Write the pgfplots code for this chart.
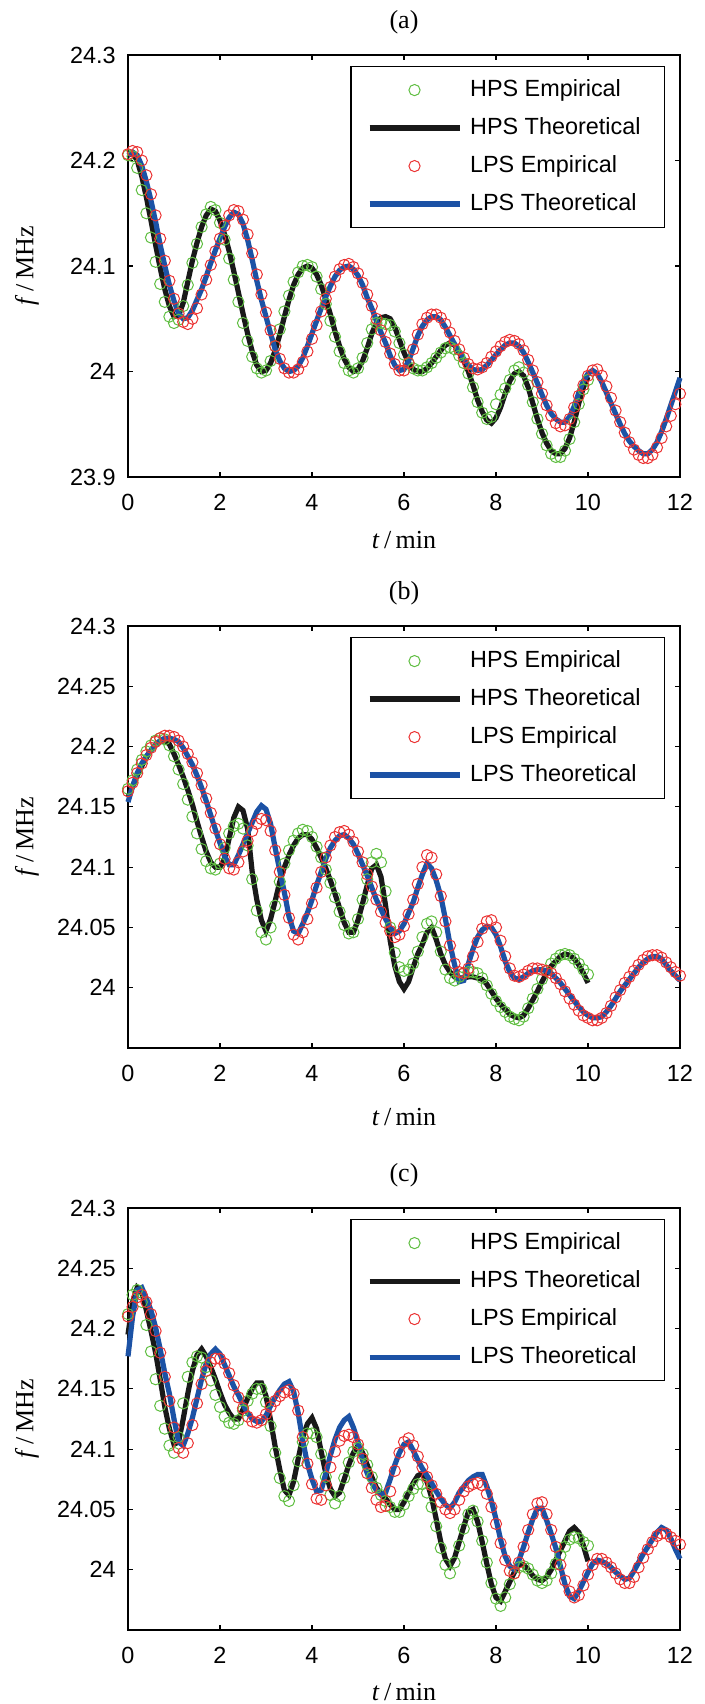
\documentclass[border=0pt]{standalone}
\usepackage{fontspec}
\setmainfont{Liberation Sans}
\newfontfamily\serif{Liberation Serif}
\usepackage{pgfplots}
\usepackage{pgfplotstable}
\pgfplotsset{compat=1.18}

\definecolor{hpsgreen}{RGB}{95,190,65}
\definecolor{lpsred}{RGB}{235,50,50}
\definecolor{lpsblue}{RGB}{28,82,165}
\definecolor{hpsblack}{RGB}{25,25,25}

% panel (a)
\pgfplotstableread{
t emp theo
0.0 24.205 24.205
0.1 24.204 24.207
0.2 24.193 24.200
0.3 24.172 24.185
0.4 24.150 24.165
0.5 24.127 24.143
0.6 24.104 24.120
0.7 24.083 24.098
0.8 24.066 24.078
0.9 24.052 24.062
1.0 24.046 24.052
1.1 24.049 24.053
1.2 24.062 24.065
1.3 24.082 24.085
1.4 24.103 24.105
1.5 24.121 24.122
1.6 24.137 24.137
1.7 24.149 24.148
1.8 24.156 24.154
1.9 24.153 24.152
2.0 24.141 24.143
2.1 24.125 24.130
2.2 24.107 24.114
2.3 24.087 24.095
2.4 24.066 24.075
2.5 24.046 24.055
2.6 24.029 24.036
2.7 24.014 24.019
2.8 24.003 24.006
2.9 23.999 24.000
3.0 24.001 24.001
3.1 24.010 24.008
3.2 24.024 24.020
3.3 24.040 24.035
3.4 24.057 24.052
3.5 24.072 24.068
3.6 24.085 24.082
3.7 24.094 24.092
3.8 24.100 24.098
3.9 24.101 24.100
4.0 24.099 24.098
4.1 24.090 24.092
4.2 24.078 24.082
4.3 24.064 24.069
4.4 24.048 24.054
4.5 24.033 24.038
4.6 24.019 24.024
4.7 24.008 24.012
4.8 24.001 24.004
4.9 23.999 24.000
5.0 24.003 24.002
5.1 24.013 24.010
5.2 24.027 24.022
5.3 24.040 24.036
5.4 24.046 24.046
5.5 24.046 24.051
5.6 24.045 24.052
5.7 24.044 24.050
5.8 24.038 24.042
5.9 24.027 24.030
6.0 24.016 24.018
6.1 24.008 24.008
6.2 24.003 24.002
6.3 24.001 24.000
6.4 24.001 24.000
6.5 24.004 24.003
6.6 24.008 24.008
6.7 24.013 24.014
6.8 24.018 24.020
6.9 24.022 24.025
7.0 24.023 24.027
7.1 24.021 24.025
7.2 24.015 24.018
7.3 24.008 24.010
7.4 23.998 24.000
7.5 23.985 23.987
7.6 23.971 23.973
7.7 23.961 23.962
7.8 23.955 23.954
7.9 23.957 23.951
8.0 23.969 23.956
8.1 23.978 23.966
8.2 23.984 23.979
8.3 23.992 23.991
8.4 24.001 23.998
8.5 24.004 24.000
8.6 23.999 23.996
8.7 23.987 23.985
8.8 23.971 23.970
8.9 23.955 23.955
9.0 23.941 23.942
9.1 23.930 23.932
9.2 23.922 23.925
9.3 23.919 23.922
9.4 23.919 23.922
9.5 23.925 23.927
9.6 23.936 23.937
9.7 23.952 23.952
9.8 23.969 23.970
9.9 23.983 23.985
10.0 23.992 23.995
}\hpsA

\pgfplotstableread{
t emp theo
0.0 24.206 24.205
0.1 24.209 24.208
0.2 24.208 24.205
0.3 24.200 24.195
0.4 24.186 24.180
0.5 24.168 24.162
0.6 24.148 24.142
0.7 24.126 24.120
0.8 24.105 24.100
0.9 24.086 24.082
1.0 24.069 24.067
1.1 24.055 24.055
1.2 24.047 24.050
1.3 24.045 24.051
1.4 24.050 24.058
1.5 24.060 24.068
1.6 24.073 24.078
1.7 24.087 24.090
1.8 24.101 24.103
1.9 24.114 24.115
2.0 24.126 24.126
2.1 24.138 24.137
2.2 24.148 24.146
2.3 24.153 24.151
2.4 24.152 24.149
2.5 24.144 24.140
2.6 24.130 24.125
2.7 24.112 24.106
2.8 24.092 24.086
2.9 24.073 24.068
3.0 24.056 24.052
3.1 24.039 24.036
3.2 24.024 24.021
3.3 24.012 24.010
3.4 24.003 24.003
3.5 23.999 24.000
3.6 23.999 24.001
3.7 24.002 24.005
3.8 24.009 24.013
3.9 24.019 24.024
4.0 24.031 24.036
4.1 24.044 24.048
4.2 24.057 24.060
4.3 24.069 24.071
4.4 24.080 24.081
4.5 24.090 24.090
4.6 24.097 24.096
4.7 24.101 24.099
4.8 24.102 24.100
4.9 24.099 24.097
5.0 24.093 24.091
5.1 24.084 24.082
5.2 24.073 24.070
5.3 24.062 24.060
5.4 24.050 24.048
5.5 24.039 24.037
5.6 24.028 24.027
5.7 24.017 24.015
5.8 24.007 24.006
5.9 24.001 24.001
6.0 24.001 24.002
6.1 24.008 24.010
6.2 24.021 24.022
6.3 24.035 24.034
6.4 24.045 24.043
6.5 24.051 24.049
6.6 24.054 24.052
6.7 24.054 24.052
6.8 24.051 24.049
6.9 24.045 24.042
7.0 24.037 24.034
7.1 24.029 24.026
7.2 24.021 24.019
7.3 24.013 24.012
7.4 24.007 24.006
7.5 24.003 24.002
7.6 24.002 24.001
7.7 24.004 24.002
7.8 24.008 24.006
7.9 24.014 24.011
8.0 24.019 24.016
8.1 24.024 24.021
8.2 24.028 24.025
8.3 24.030 24.027
8.4 24.029 24.027
8.5 24.026 24.024
8.6 24.020 24.018
8.7 24.011 24.009
8.8 24.001 23.999
8.9 23.990 23.989
9.0 23.979 23.978
9.1 23.968 23.968
9.2 23.958 23.960
9.3 23.951 23.955
9.4 23.948 23.952
9.5 23.949 23.952
9.6 23.955 23.957
9.7 23.966 23.967
9.8 23.977 23.980
9.9 23.987 23.991
10.0 23.996 23.998
10.1 24.001 24.001
10.2 24.002 23.998
10.3 23.996 23.990
10.4 23.986 23.980
10.5 23.975 23.970
10.6 23.963 23.960
10.7 23.952 23.950
10.8 23.942 23.941
10.9 23.933 23.934
11.0 23.926 23.929
11.1 23.921 23.925
11.2 23.918 23.922
11.3 23.918 23.922
11.4 23.921 23.926
11.5 23.928 23.933
11.6 23.937 23.943
11.7 23.948 23.955
11.8 23.958 23.968
11.9 23.969 23.981
12.0 23.979 23.994
}\lpsA

% panel (b)
\pgfplotstableread{
t emp theo
0.0 24.165 24.158
0.1 24.172 24.167
0.2 24.181 24.176
0.3 24.189 24.184
0.4 24.196 24.191
0.5 24.201 24.197
0.6 24.205 24.201
0.7 24.207 24.204
0.8 24.206 24.205
0.9 24.201 24.202
1.0 24.192 24.194
1.1 24.181 24.185
1.2 24.169 24.175
1.3 24.156 24.164
1.4 24.142 24.152
1.5 24.128 24.138
1.6 24.115 24.125
1.7 24.105 24.113
1.8 24.099 24.104
1.9 24.098 24.100
2.0 24.103 24.100
2.1 24.116 24.107
2.2 24.128 24.124
2.3 24.134 24.141
2.4 24.136 24.150
2.5 24.132 24.147
2.6 24.118 24.132
2.7 24.090 24.096
2.8 24.064 24.073
2.9 24.046 24.056
3.0 24.040 24.047
3.1 24.050 24.057
3.2 24.068 24.072
3.3 24.088 24.088
3.4 24.103 24.100
3.5 24.114 24.110
3.6 24.122 24.118
3.7 24.128 24.124
3.8 24.131 24.127
3.9 24.130 24.127
4.0 24.125 24.123
4.1 24.117 24.116
4.2 24.108 24.108
4.3 24.098 24.099
4.4 24.087 24.089
4.5 24.075 24.078
4.6 24.063 24.066
4.7 24.052 24.054
4.8 24.045 24.046
4.9 24.046 24.046
5.0 24.057 24.056
5.1 24.073 24.070
5.2 24.090 24.085
5.3 24.104 24.099
5.4 24.111 24.102
5.5 24.104 24.092
5.6 24.080 24.068
5.7 24.050 24.039
5.8 24.029 24.018
5.9 24.017 24.005
6.0 24.014 23.999
6.1 24.015 24.005
6.2 24.020 24.017
6.3 24.030 24.028
6.4 24.042 24.036
6.5 24.053 24.046
6.6 24.055 24.050
6.7 24.046 24.040
6.8 24.030 24.028
6.9 24.015 24.019
7.0 24.008 24.013
7.1 24.006 24.009
7.2 24.009 24.008
7.3 24.012 24.008
7.4 24.013 24.009
7.5 24.013 24.009
7.6 24.012 24.008
7.7 24.008 24.007
7.8 24.002 24.003
7.9 23.995 23.997
8.0 23.989 23.991
8.1 23.984 23.986
8.2 23.980 23.982
8.3 23.976 23.978
8.4 23.974 23.976
8.5 23.973 23.975
8.6 23.976 23.977
8.7 23.983 23.983
8.8 23.991 23.990
8.9 23.999 23.997
9.0 24.007 24.005
9.1 24.014 24.012
9.2 24.020 24.018
9.3 24.024 24.022
9.4 24.027 24.026
9.5 24.028 24.028
9.6 24.027 24.027
9.7 24.024 24.024
9.8 24.020 24.019
9.9 24.015 24.012
10.0 24.011 24.004
}\hpsB

\pgfplotstableread{
t emp theo
0.0 24.163 24.154
0.1 24.170 24.167
0.2 24.178 24.178
0.3 24.186 24.186
0.4 24.193 24.192
0.5 24.199 24.197
0.6 24.204 24.202
0.7 24.207 24.205
0.8 24.209 24.207
0.9 24.209 24.207
1.0 24.208 24.206
1.1 24.205 24.204
1.2 24.200 24.199
1.3 24.194 24.192
1.4 24.187 24.185
1.5 24.178 24.176
1.6 24.168 24.166
1.7 24.157 24.155
1.8 24.145 24.143
1.9 24.132 24.131
2.0 24.119 24.120
2.1 24.107 24.109
2.2 24.099 24.102
2.3 24.098 24.102
2.4 24.104 24.110
2.5 24.113 24.119
2.6 24.122 24.128
2.7 24.130 24.137
2.8 24.136 24.146
2.9 24.140 24.151
3.0 24.139 24.148
3.1 24.130 24.136
3.2 24.114 24.116
3.3 24.096 24.097
3.4 24.077 24.079
3.5 24.058 24.059
3.6 24.044 24.047
3.7 24.040 24.045
3.8 24.046 24.053
3.9 24.057 24.062
4.0 24.070 24.073
4.1 24.083 24.085
4.2 24.096 24.096
4.3 24.108 24.107
4.4 24.118 24.116
4.5 24.125 24.122
4.6 24.129 24.126
4.7 24.130 24.127
4.8 24.127 24.124
4.9 24.121 24.119
5.0 24.113 24.111
5.1 24.104 24.102
5.2 24.094 24.093
5.3 24.084 24.083
5.4 24.073 24.073
5.5 24.063 24.065
5.6 24.054 24.057
5.7 24.047 24.050
5.8 24.042 24.045
5.9 24.044 24.047
6.0 24.051 24.053
6.1 24.061 24.062
6.2 24.073 24.071
6.3 24.086 24.083
6.4 24.100 24.094
6.5 24.110 24.103
6.6 24.108 24.099
6.7 24.094 24.089
6.8 24.076 24.076
6.9 24.055 24.057
7.0 24.035 24.036
7.1 24.020 24.019
7.2 24.013 24.005
7.3 24.012 24.006
7.4 24.016 24.020
7.5 24.026 24.032
7.6 24.038 24.042
7.7 24.049 24.048
7.8 24.055 24.051
7.9 24.056 24.050
8.0 24.050 24.044
8.1 24.039 24.034
8.2 24.026 24.022
8.3 24.016 24.013
8.4 24.010 24.008
8.5 24.009 24.007
8.6 24.011 24.009
8.7 24.014 24.012
8.8 24.016 24.014
8.9 24.016 24.015
9.0 24.015 24.015
9.1 24.014 24.014
9.2 24.012 24.012
9.3 24.008 24.008
9.4 24.003 24.004
9.5 23.997 23.999
9.6 23.991 23.994
9.7 23.986 23.989
9.8 23.981 23.984
9.9 23.977 23.980
10.0 23.975 23.977
10.1 23.973 23.975
10.2 23.973 23.975
10.3 23.975 23.976
10.4 23.979 23.980
10.5 23.985 23.985
10.6 23.992 23.991
10.7 23.998 23.997
10.8 24.004 24.002
10.9 24.009 24.007
11.0 24.014 24.012
11.1 24.019 24.017
11.2 24.023 24.021
11.3 24.026 24.024
11.4 24.027 24.026
11.5 24.027 24.026
11.6 24.025 24.024
11.7 24.021 24.019
11.8 24.017 24.014
11.9 24.013 24.010
12.0 24.010 24.006
}\lpsB

% panel (c)
\pgfplotstableread{
t emp theo
0.0 24.212 24.195
0.1 24.228 24.222
0.2 24.232 24.234
0.3 24.222 24.230
0.4 24.203 24.215
0.5 24.181 24.198
0.6 24.158 24.180
0.7 24.136 24.158
0.8 24.117 24.135
0.9 24.103 24.117
1.0 24.097 24.104
1.1 24.110 24.106
1.2 24.138 24.125
1.3 24.160 24.146
1.4 24.172 24.165
1.5 24.177 24.178
1.6 24.176 24.183
1.7 24.168 24.177
1.8 24.157 24.168
1.9 24.145 24.158
2.0 24.135 24.147
2.1 24.127 24.137
2.2 24.122 24.130
2.3 24.121 24.125
2.4 24.124 24.125
2.5 24.132 24.133
2.6 24.140 24.142
2.7 24.146 24.150
2.8 24.150 24.155
2.9 24.150 24.155
3.0 24.139 24.144
3.1 24.119 24.124
3.2 24.097 24.102
3.3 24.076 24.083
3.4 24.061 24.066
3.5 24.057 24.062
3.6 24.070 24.073
3.7 24.090 24.092
3.8 24.106 24.110
3.9 24.113 24.121
4.0 24.113 24.126
4.1 24.110 24.117
4.2 24.096 24.098
4.3 24.077 24.080
4.4 24.062 24.067
4.5 24.055 24.061
4.6 24.061 24.064
4.7 24.076 24.075
4.8 24.089 24.087
4.9 24.098 24.097
5.0 24.101 24.103
5.1 24.096 24.097
5.2 24.087 24.087
5.3 24.077 24.077
5.4 24.068 24.068
5.5 24.062 24.063
5.6 24.057 24.059
5.7 24.052 24.054
5.8 24.048 24.050
5.9 24.048 24.050
6.0 24.054 24.056
6.1 24.061 24.064
6.2 24.067 24.072
6.3 24.071 24.078
6.4 24.071 24.080
6.5 24.064 24.073
6.6 24.052 24.060
6.7 24.036 24.042
6.8 24.018 24.023
6.9 24.004 24.009
7.0 23.997 24.003
7.1 24.006 24.010
7.2 24.020 24.023
7.3 24.034 24.036
7.4 24.046 24.048
7.5 24.049 24.050
7.6 24.040 24.040
7.7 24.024 24.023
7.8 24.006 24.005
7.9 23.989 23.988
8.0 23.976 23.977
8.1 23.970 23.974
8.2 23.977 23.982
8.3 23.988 23.990
8.4 23.997 23.998
8.5 24.002 24.005
8.6 24.003 24.004
8.7 24.001 24.000
8.8 23.996 23.995
8.9 23.991 23.992
9.0 23.989 23.991
9.1 23.991 23.994
9.2 23.997 24.000
9.3 24.005 24.008
9.4 24.012 24.016
9.5 24.019 24.024
9.6 24.025 24.032
9.7 24.027 24.035
9.8 24.026 24.031
9.9 24.023 24.020
10.0 24.020 24.007
}\hpsC

\pgfplotstableread{
t emp theo
0.0 24.210 24.177
0.1 24.218 24.210
0.2 24.226 24.232
0.3 24.228 24.234
0.4 24.222 24.225
0.5 24.212 24.215
0.6 24.198 24.201
0.7 24.180 24.183
0.8 24.160 24.163
0.9 24.140 24.146
1.0 24.118 24.125
1.1 24.101 24.106
1.2 24.097 24.103
1.3 24.105 24.113
1.4 24.120 24.126
1.5 24.138 24.142
1.6 24.154 24.158
1.7 24.165 24.171
1.8 24.172 24.179
1.9 24.175 24.183
2.0 24.175 24.179
2.1 24.171 24.170
2.2 24.163 24.161
2.3 24.153 24.152
2.4 24.143 24.145
2.5 24.134 24.137
2.6 24.127 24.130
2.7 24.123 24.125
2.8 24.122 24.123
2.9 24.124 24.123
3.0 24.129 24.128
3.1 24.135 24.136
3.2 24.140 24.143
3.3 24.144 24.149
3.4 24.147 24.154
3.5 24.149 24.156
3.6 24.146 24.148
3.7 24.132 24.130
3.8 24.110 24.107
3.9 24.088 24.088
4.0 24.071 24.075
4.1 24.059 24.065
4.2 24.058 24.066
4.3 24.070 24.080
4.4 24.085 24.095
4.5 24.098 24.108
4.6 24.107 24.118
4.7 24.111 24.124
4.8 24.112 24.127
4.9 24.110 24.118
5.0 24.104 24.106
5.1 24.092 24.091
5.2 24.080 24.080
5.3 24.068 24.072
5.4 24.058 24.066
5.5 24.052 24.062
5.6 24.053 24.064
5.7 24.065 24.075
5.8 24.082 24.087
5.9 24.097 24.097
6.0 24.106 24.104
6.1 24.109 24.106
6.2 24.103 24.099
6.3 24.094 24.091
6.4 24.085 24.084
6.5 24.077 24.078
6.6 24.070 24.072
6.7 24.063 24.065
6.8 24.056 24.059
6.9 24.050 24.054
7.0 24.047 24.051
7.1 24.050 24.056
7.2 24.058 24.064
7.3 24.065 24.069
7.4 24.069 24.074
7.5 24.071 24.077
7.6 24.072 24.079
7.7 24.070 24.079
7.8 24.063 24.069
7.9 24.052 24.057
8.0 24.038 24.042
8.1 24.022 24.025
8.2 24.008 24.011
8.3 23.999 24.003
8.4 23.997 24.000
8.5 24.006 24.008
8.6 24.019 24.019
8.7 24.033 24.031
8.8 24.046 24.042
8.9 24.055 24.051
9.0 24.056 24.051
9.1 24.046 24.041
9.2 24.033 24.030
9.3 24.019 24.018
9.4 24.004 24.003
9.5 23.991 23.988
9.6 23.982 23.978
9.7 23.977 23.976
9.8 23.979 23.982
9.9 23.987 23.990
10.0 23.996 23.998
10.1 24.004 24.005
10.2 24.009 24.008
10.3 24.009 24.007
10.4 24.006 24.005
10.5 24.002 24.002
10.6 23.997 23.998
10.7 23.992 23.995
10.8 23.989 23.992
10.9 23.989 23.993
11.0 23.994 23.999
11.1 24.002 24.006
11.2 24.010 24.013
11.3 24.017 24.019
11.4 24.023 24.025
11.5 24.028 24.031
11.6 24.030 24.035
11.7 24.030 24.033
11.8 24.027 24.026
11.9 24.024 24.017
12.0 24.021 24.009
}\lpsC

\pgfplotsset{
  panel/.style={
    scale only axis, width=276pt, height=211pt,
    anchor=south west, clip=false,
    xmin=0, xmax=12, xtick={0,2,4,6,8,10,12},
    tick align=inside, major tick length=2.5pt,
    axis line style={line width=0.6pt},
    every tick/.style={black, line width=0.6pt},
    tick label style={font=\fontsize{11.7}{14}\selectfont},
    /pgf/number format/assume math mode=true,
    xticklabel style={yshift=-5pt},
    yticklabel style={xshift=-2.6pt},
    xlabel={\textit{t}\,/\,min},
    ylabel={\textit{f}\,/\,MHz},
    ylabel style={at={(axis description cs:-0.183,0.5)}, anchor=center, font=\serif\fontsize{13}{15}\selectfont},
    every axis title shift=0pt,
    title style={at={(axis description cs:0.5,1.078)}, anchor=center, font=\serif\fontsize{13}{15}\selectfont},
    legend cell align=left,
    legend image code/.code={\draw[mark repeat=2,mark phase=2,##1] plot coordinates {(0pt,0pt) (22.5pt,0pt) (45pt,0pt)};},
    legend style={at={(axis description cs:0.973,0.974)}, anchor=north east,
      draw=black, line width=0.6pt, inner xsep=8pt, inner ysep=2.25pt,
      column sep=0pt, font=\fontsize{11.7}{14}\selectfont,
      nodes={inner xsep=4pt, inner ysep=4pt, text height=8.6pt, text depth=2.4pt}},
  },
  emp/.style={only marks, mark=o, mark size=2.8pt, mark options={line width=0.5pt}},
  theo/.style={no markers, line width=2.6pt},
}

\begin{document}
\begin{tikzpicture}
\useasboundingbox (0pt,0pt) rectangle (352.5pt,-852pt);

\begin{axis}[panel, at={(64pt,-238.5pt)},
  title={(a)},
  xlabel style={at={(axis description cs:0.5,-0.149)}, anchor=center, font=\serif\fontsize{13}{15}\selectfont},
  ymin=23.9, ymax=24.3,
  ytick={23.9,24,24.1,24.2,24.3},
  yticklabels={23.9,24,24.1,24.2,24.3}]
\addplot[emp, hpsgreen] table[x=t,y=emp]{\hpsA};
\addplot[theo, hpsblack] table[x=t,y=theo]{\hpsA};
\addplot[emp, lpsred] table[x=t,y=emp]{\lpsA};
\addplot[theo, lpsblue] table[x=t,y=theo]{\lpsA};
\legend{HPS Empirical, HPS Theoretical, LPS Empirical, LPS Theoretical}
\end{axis}

\begin{axis}[panel, at={(64pt,-524pt)},
  title={(b)},
  xlabel style={at={(axis description cs:0.5,-0.163)}, anchor=center, font=\serif\fontsize{13}{15}\selectfont},
  ymin=23.95, ymax=24.3,
  ytick={24,24.05,24.1,24.15,24.2,24.25,24.3},
  yticklabels={24,24.05,24.1,24.15,24.2,24.25,24.3}]
\addplot[emp, hpsgreen] table[x=t,y=emp]{\hpsB};
\addplot[theo, hpsblack] table[x=t,y=theo]{\hpsB};
\addplot[emp, lpsred] table[x=t,y=emp]{\lpsB};
\addplot[theo, lpsblue] table[x=t,y=theo]{\lpsB};
\legend{HPS Empirical, HPS Theoretical, LPS Empirical, LPS Theoretical}
\end{axis}

\begin{axis}[panel, at={(64pt,-815pt)},
  title={(c)},
  xlabel style={at={(axis description cs:0.5,-0.147)}, anchor=center, font=\serif\fontsize{13}{15}\selectfont},
  ymin=23.95, ymax=24.3,
  ytick={24,24.05,24.1,24.15,24.2,24.25,24.3},
  yticklabels={24,24.05,24.1,24.15,24.2,24.25,24.3}]
\addplot[emp, hpsgreen] table[x=t,y=emp]{\hpsC};
\addplot[theo, hpsblack] table[x=t,y=theo]{\hpsC};
\addplot[emp, lpsred] table[x=t,y=emp]{\lpsC};
\addplot[theo, lpsblue] table[x=t,y=theo]{\lpsC};
\legend{HPS Empirical, HPS Theoretical, LPS Empirical, LPS Theoretical}
\end{axis}
\end{tikzpicture}
\end{document}
